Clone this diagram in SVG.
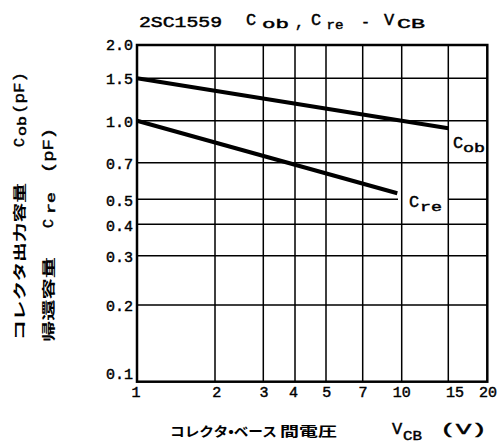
<svg xmlns="http://www.w3.org/2000/svg" width="501" height="445" viewBox="0 0 501 445">
<style>
.num{font-family:"Liberation Mono",monospace;font-size:15px;fill:#000;stroke:#000;stroke-width:0.45}
.t{font-family:"Liberation Mono",monospace;font-size:15px;fill:#000;stroke:#000;stroke-width:0.45}
.big{font-size:17px}
.sub{font-family:"Liberation Mono",monospace;font-size:13px;fill:#000;stroke:#000;stroke-width:0.45}
.jp{font-family:"Noto Sans CJK JP",sans-serif;font-size:13px;font-weight:bold;fill:#000}
.grid{stroke:#000;stroke-width:1.5;fill:none}
.frame{stroke:#000;stroke-width:2.5;fill:none}
.curve{stroke:#000;stroke-width:4;fill:none}
</style>
<rect x="0" y="0" width="501" height="445" fill="#fff"/>
<g id="title">
<text class="t" x="139" y="26.5" textLength="83" lengthAdjust="spacingAndGlyphs">2SC1559</text>
<text class="t big" x="246" y="24.5">C</text>
<text class="sub" x="262" y="28" textLength="27" lengthAdjust="spacingAndGlyphs">ob</text>
<text class="t" x="295" y="27">,</text>
<text class="t big" x="311" y="24.5">C</text>
<text class="sub" x="326.5" y="28.5" textLength="17" lengthAdjust="spacingAndGlyphs">re</text>
<text class="t" x="361" y="26.5">-</text>
<text class="t big" x="384" y="24.5">V</text>
<text class="sub" x="397" y="28" textLength="28" lengthAdjust="spacingAndGlyphs">CB</text>
</g>
<g id="grid">
<path class="grid" d="M215 45V381.7M263.3 45V381.7M295 45V381.7M326 45V381.7M362.7 45V381.7M401.7 45V381.7M448.3 45V381.7"/>
<path class="grid" d="M137 78.3H487.3M137 120.7H487.3M137 162.7H487.3M137 199.3H398M448.3 199.3H487.3M137 224.3H487.3M137 255.7H487.3M137 305H487.3"/>
<rect class="frame" x="137" y="45" width="350.3" height="336.7"/>
</g>
<g id="curves">
<line id="cob" class="curve" x1="137" y1="78.3" x2="448.3" y2="128.3"/>
<line id="cre" class="curve" x1="137" y1="120.7" x2="397.3" y2="193.3"/>
</g>
<g id="curve-labels">
<text class="t big" x="453" y="147.5">C</text>
<text class="sub" x="463" y="152" textLength="22" lengthAdjust="spacingAndGlyphs">ob</text>
<text class="t big" x="409" y="207">C</text>
<text class="sub" x="420" y="211" textLength="22" lengthAdjust="spacingAndGlyphs">re</text>
</g>
<g id="y-ticks" text-anchor="end">
<text class="num" x="133" y="50">2.0</text>
<text class="num" x="133" y="84">1.5</text>
<text class="num" x="133" y="126.5">1.0</text>
<text class="num" x="133" y="168.5">0.7</text>
<text class="num" x="133" y="205.5">0.5</text>
<text class="num" x="133" y="230.5">0.4</text>
<text class="num" x="133" y="262">0.3</text>
<text class="num" x="133" y="311">0.2</text>
<text class="num" x="133" y="379">0.1</text>
</g>
<g id="x-ticks" text-anchor="middle">
<text class="num" x="136" y="397">1</text>
<text class="num" x="216.7" y="397">2</text>
<text class="num" x="264" y="397">3</text>
<text class="num" x="293.5" y="397">4</text>
<text class="num" x="326.7" y="397">5</text>
<text class="num" x="363" y="397">7</text>
<text class="num" x="401.7" y="397">10</text>
<text class="num" x="455" y="397">15</text>
<text class="num" x="488" y="397">20</text>
</g>
<g id="x-title">
<text class="jp" x="170" y="436" textLength="107" lengthAdjust="spacingAndGlyphs">コレクタ•ベース</text>
<text class="jp" x="280" y="436" textLength="57" lengthAdjust="spacingAndGlyphs">間電圧</text>
<text class="t big" x="392" y="434">V</text>
<text class="sub" x="403" y="440" textLength="19" lengthAdjust="spacingAndGlyphs">CB</text>
<text class="t" x="440" y="434" textLength="47" lengthAdjust="spacingAndGlyphs">(V)</text>
</g>
<g id="y-title-1" transform="translate(24 0) rotate(-90)">
<text class="jp" x="-340" y="0" textLength="157" lengthAdjust="spacingAndGlyphs">コレクタ出力容量</text>
<text class="t" x="-147" y="0">C</text>
<text class="sub" x="-136" y="2" textLength="20" lengthAdjust="spacingAndGlyphs">ob</text>
<text class="t" x="-114" y="0" textLength="42" lengthAdjust="spacingAndGlyphs">(pF)</text>
</g>
<g id="y-title-2" transform="translate(53 0) rotate(-90)">
<text class="jp" x="-342" y="0" textLength="85" lengthAdjust="spacingAndGlyphs">帰還容量</text>
<text class="t" x="-228" y="0">C</text>
<text class="sub" x="-214" y="2" textLength="22" lengthAdjust="spacingAndGlyphs">re</text>
<text class="t" x="-173" y="0" textLength="45" lengthAdjust="spacingAndGlyphs">(pF)</text>
</g>
</svg>
